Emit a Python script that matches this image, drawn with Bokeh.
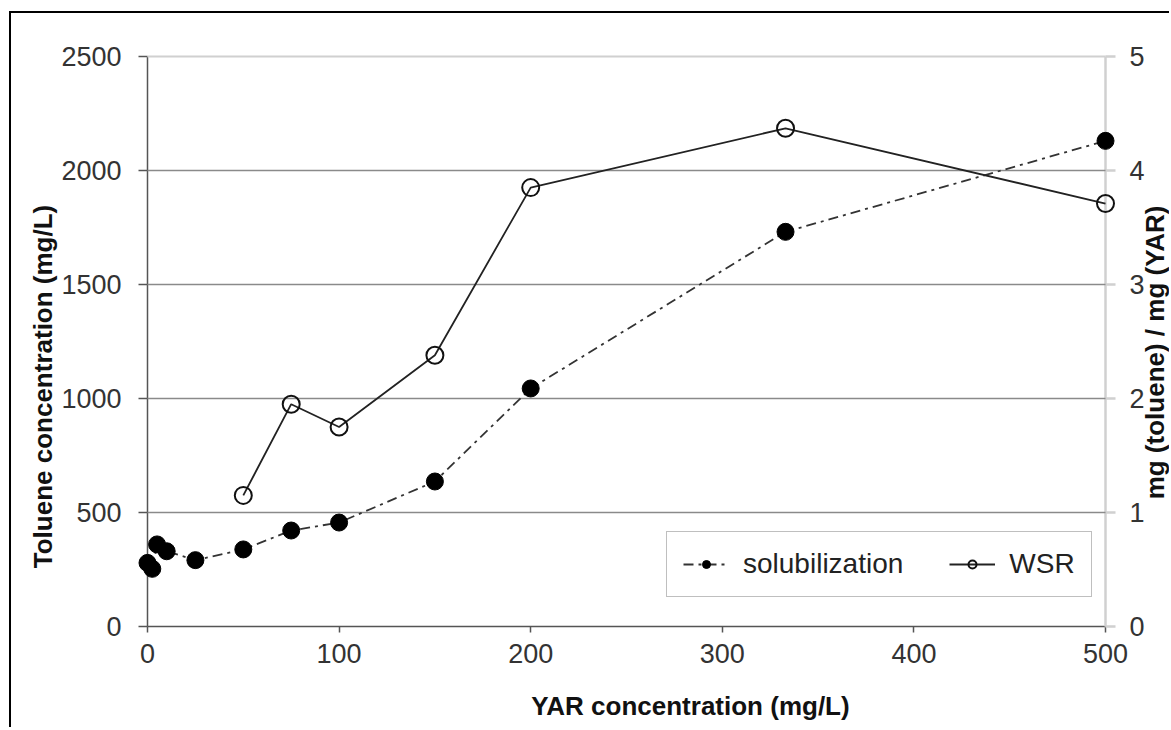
from math import pi

from bokeh.plotting import figure
from bokeh.models import Range1d, LinearAxis, FixedTicker, Legend, LegendItem, Label
from bokeh.embed import file_html
from bokeh.resources import INLINE

# YAR concentration (mg/L) for each measurement
yar = [0, 2.5, 5, 10, 25, 50, 75, 100, 150, 200, 333, 500]
# dissolved toluene (mg/L)
solubilization = [279, 253, 360, 330, 291, 338, 421, 456, 636, 1044, 1731, 2130]

# weight solubilization ratio, mg(toluene)/mg(YAR)
wsr_yar = [50, 75, 100, 150, 200, 333, 500]
wsr = [1.15, 1.95, 1.75, 2.38, 3.85, 4.37, 3.71]

x_ticks = [0, 100, 200, 300, 400, 500]
y_ticks = [0, 500, 1000, 1500, 2000, 2500]
y_grid = [500, 1000, 1500, 2000]
wsr_ticks = [0, 1, 2, 3, 4, 5]

FONT = "Liberation Sans"
TICK_SIZE = "27px"
TITLE_SIZE = "26px"
DARK = "#555555"
LIGHT = "#d0d0d0"

# canvas size and where the 0..500 / 0..2500 box sits inside it (pixels)
CANVAS_W, CANVAS_H = 1160, 716
BOX_L, BOX_T, BOX_W, BOX_H = 136, 43, 958, 570
BOX_B = CANVAS_H - BOX_T - BOX_H
BOX_R = CANVAS_W - BOX_L - BOX_W

x_lo, x_hi = x_ticks[0], x_ticks[-1]
y_lo, y_hi = y_ticks[0], y_ticks[-1]
w_lo, w_hi = wsr_ticks[0], wsr_ticks[-1]


def padded(lo, hi, length_px, before_px, after_px):
    per_px = (hi - lo) / length_px
    return Range1d(lo - before_px * per_px, hi + after_px * per_px)


def x_at(px):
    return x_lo + (px - BOX_L) * (x_hi - x_lo) / BOX_W


def y_at(py):
    return y_lo + (BOX_T + BOX_H - py) * (y_hi - y_lo) / BOX_H


p = figure(
    width=CANVAS_W, height=CANVAS_H, title=None,
    output_backend="svg", toolbar_location=None,
    x_range=padded(x_lo, x_hi, BOX_W, BOX_L, BOX_R),
    y_range=padded(y_lo, y_hi, BOX_H, BOX_B, BOX_T),
    min_border=0,
    background_fill_color="white", border_fill_color="white",
)
p.extra_y_ranges = {"wsr": padded(w_lo, w_hi, BOX_H, BOX_B, BOX_T)}
p.styles = {"border-left": "2.5px solid black", "border-top": "2.5px solid black"}
p.margin = (11, 0, 0, 9)
p.outline_line_color = None
p.xgrid.visible = False
p.ygrid.visible = False

# horizontal grid lines across the data box, light line along its top
p.segment(x0=x_lo, x1=x_hi, y0=y_grid, y1=y_grid, line_color="#8a8a8a", line_width=1.5)
p.segment(x0=x_lo, x1=x_hi, y0=y_hi, y1=y_hi, line_color=LIGHT, line_width=2)


def style_axis(ax, ticks, loc, line_color, line_width, tick_out, standoff):
    ax.ticker = FixedTicker(ticks=ticks)
    ax.fixed_location = loc
    ax.bounds = (ticks[0], ticks[-1])
    ax.level = "underlay"
    ax.axis_line_color = line_color
    ax.axis_line_width = line_width
    ax.major_tick_line_color = line_color
    ax.major_tick_line_width = line_width
    ax.major_tick_out = tick_out
    ax.major_tick_in = 0
    ax.minor_tick_line_color = None
    ax.major_label_text_font = FONT
    ax.major_label_text_font_size = TICK_SIZE
    ax.major_label_text_color = "#333333"
    ax.major_label_standoff = standoff


style_axis(p.xaxis[0], x_ticks, y_lo, DARK, 1.5, 6, 11)
style_axis(p.yaxis[0], y_ticks, x_lo, DARK, 1.5, 9, 17)

right_axis = LinearAxis(y_range_name="wsr")
style_axis(right_axis, wsr_ticks, x_hi, LIGHT, 2.5, 10, 14)
p.add_layout(right_axis, "right")

# solubilization: dash-dot line with filled markers
sol_line = p.line(yar, solubilization, line_color="#333333", line_width=1.8,
                  line_dash="10 5 3 5")
sol_pts = p.scatter(yar, solubilization, size=17, marker="circle",
                    fill_color="black", line_color="black")

# WSR on the secondary axis: solid line with open markers
wsr_line = p.line(wsr_yar, wsr, line_color="#222222", line_width=1.8,
                  y_range_name="wsr")
wsr_pts = p.scatter(wsr_yar, wsr, size=17, marker="circle", fill_color=None,
                    line_color="#111111", line_width=2, y_range_name="wsr")

legend = Legend(
    items=[LegendItem(label="solubilization", renderers=[sol_line, sol_pts]),
           LegendItem(label="WSR", renderers=[wsr_line, wsr_pts])],
    location=(655, 132), orientation="horizontal",
    label_text_font=FONT, label_text_font_size="28px", label_text_color="#222222",
    glyph_width=46, glyph_height=20, label_standoff=14, spacing=46, padding=16,
    border_line_color="#808080", border_line_width=1.5, margin=0,
    background_fill_color="white",
)
p.add_layout(legend)

# axis titles
title_style = dict(text_font=FONT, text_font_size=TITLE_SIZE, text_font_style="bold",
                   text_align="center", text_baseline="alphabetic", text_color="#111111")
p.add_layout(Label(x=x_at(679), y=y_at(692), text="YAR concentration (mg/L)", **title_style))
p.add_layout(Label(x=x_at(31), y=y_at(373), angle=pi / 2,
                   text="Toluene concentration (mg/L)", **title_style))
p.add_layout(Label(x=x_at(1143), y=y_at(339), angle=pi / 2,
                   text="mg (toluene) / mg (YAR)", **title_style))

open("out.html", "w").write(file_html(p, INLINE))
